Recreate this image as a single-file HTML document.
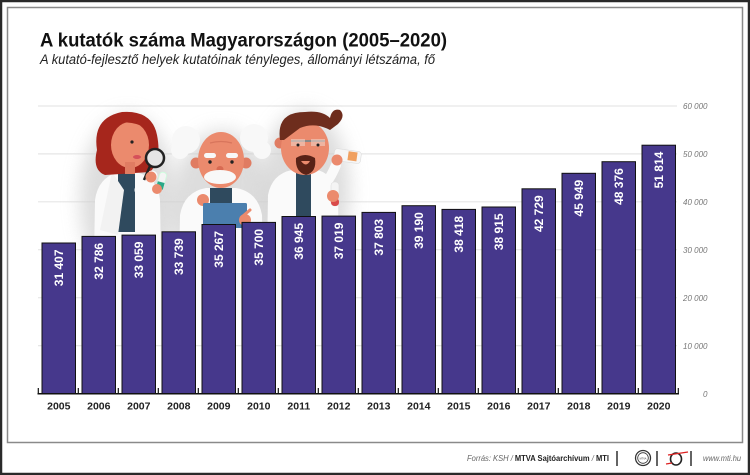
<!DOCTYPE html>
<html><head><meta charset="utf-8"><style>
html,body{margin:0;padding:0;background:#fff;}
svg{display:block;}
text{font-family:"Liberation Sans",Arial,sans-serif;}
</style></head><body>
<svg width="750" height="475" viewBox="0 0 750 475" xmlns="http://www.w3.org/2000/svg">
<defs>
<filter id="blur" x="-50%" y="-50%" width="200%" height="200%"><feGaussianBlur stdDeviation="9"/></filter>
<filter id="blur2" x="-50%" y="-50%" width="200%" height="200%"><feGaussianBlur stdDeviation="4"/></filter>
</defs>
<!-- frame -->
<rect x="0" y="0" width="750" height="475" fill="#fff"/>
<rect x="1" y="1" width="748" height="473" fill="none" stroke="#2a2a2a" stroke-width="2.5"/>
<rect x="7.5" y="7.5" width="735" height="435" fill="#fff" stroke="#8a8a8a" stroke-width="1.5"/>

<!-- title -->
<text x="40" y="46.5" font-size="19.5" font-weight="bold" fill="#111" textLength="407" lengthAdjust="spacingAndGlyphs">A kutatók száma Magyarországon (2005–2020)</text>
<text x="40" y="64" font-size="13.5" font-style="italic" fill="#222" textLength="395" lengthAdjust="spacingAndGlyphs">A kutató-fejlesztő helyek kutatóinak tényleges, állományi létszáma, fő</text>

<!-- gridlines -->
<g stroke="#e6e6e6" stroke-width="1.2">
<line x1="38" y1="106" x2="677" y2="106"/>
<line x1="38" y1="153.9" x2="677" y2="153.9"/>
<line x1="38" y1="201.8" x2="677" y2="201.8"/>
<line x1="38" y1="249.7" x2="677" y2="249.7"/>
<line x1="38" y1="297.7" x2="677" y2="297.7"/>
<line x1="38" y1="345.6" x2="677" y2="345.6"/>
</g>
<g font-size="8" font-style="italic" fill="#777">
<text x="683" y="109">60 000</text>
<text x="683" y="157">50 000</text>
<text x="683" y="205">40 000</text>
<text x="683" y="253">30 000</text>
<text x="683" y="301">20 000</text>
<text x="683" y="349">10 000</text>
<text x="703" y="397">0</text>
</g>

<!-- illustration -->
<g>
<!-- shadows -->
<ellipse cx="128" cy="200" rx="48" ry="85" fill="#cfcfcf" opacity="0.7" filter="url(#blur)"/>
<ellipse cx="222" cy="210" rx="52" ry="80" fill="#cfcfcf" opacity="0.7" filter="url(#blur)"/>
<ellipse cx="305" cy="190" rx="45" ry="80" fill="#cfcfcf" opacity="0.7" filter="url(#blur)"/>

<!-- WOMAN -->
<rect x="110" y="225" width="32" height="45" fill="#222c36"/>
<path d="M93 320 L95 200 Q98 178 118 172 L136 172 Q158 178 160 200 L162 320 Z" fill="#fafafa"/>
<rect x="118" y="172" width="17" height="60" fill="#2f4a5e"/>
<path d="M112 172 L124 190 L118 235 L100 230 Z" fill="#f2f2f2"/>
<path d="M97 150 Q92 118 122 112 Q152 110 157 135 Q162 160 150 172 L105 175 Q92 170 97 150 Z" fill="#a6261c"/>
<ellipse cx="130" cy="145" rx="19" ry="23" fill="#eb8a6d"/>
<path d="M112 125 Q130 118 150 130 L150 122 Q132 110 112 120 Z" fill="#a6261c"/>
<ellipse cx="137" cy="157" rx="4" ry="2" fill="#d5505a"/>
<circle cx="132" cy="142" r="1.6" fill="#222"/>
<rect x="125" y="162" width="10" height="12" fill="#e07c62"/>
<path d="M140 190 Q148 182 152 176" stroke="#fafafa" stroke-width="11" fill="none" stroke-linecap="round"/>
<line x1="150" y1="166" x2="144" y2="180" stroke="#222" stroke-width="2.5"/>
<circle cx="155" cy="158" r="9" fill="#e6e6e6" stroke="#222" stroke-width="2.5"/>
<circle cx="151" cy="177" r="5.5" fill="#eb8a6d"/>
<rect x="158" y="172" width="7" height="18" rx="3" fill="#f4f4f4" stroke="#cfd" stroke-width="0.8" transform="rotate(15 161 181)"/>
<rect x="158" y="182" width="7" height="7" fill="#2aa888" transform="rotate(15 161 181)"/>
<circle cx="157" cy="189" r="5" fill="#eb8a6d"/>

<!-- OLD MAN -->
<rect x="200" y="225" width="40" height="50" fill="#222c36"/>
<circle cx="186" cy="140" r="14" fill="#f8f8f8"/>
<circle cx="180" cy="150" r="9" fill="#f8f8f8"/>
<circle cx="254" cy="138" r="14" fill="#f8f8f8"/>
<circle cx="262" cy="150" r="9" fill="#f8f8f8"/>
<path d="M178 320 L180 215 Q184 192 206 188 L236 188 Q258 192 262 215 L264 320 Z" fill="#fafafa"/>
<rect x="210" y="188" width="22" height="16" fill="#2f4a5e"/>
<circle cx="196" cy="163" r="5.5" fill="#e07c62"/>
<circle cx="246" cy="163" r="5.5" fill="#e07c62"/>
<ellipse cx="221" cy="160" rx="23" ry="28" fill="#eb8a6d"/>
<path d="M210 143 Q221 140 232 143" stroke="#d8755c" stroke-width="1.2" fill="none"/>
<rect x="204" y="153" width="12" height="5" rx="2.5" fill="#f8f8f8"/>
<rect x="226" y="153" width="12" height="5" rx="2.5" fill="#f8f8f8"/>
<circle cx="210" cy="162" r="1.7" fill="#222"/>
<circle cx="232" cy="162" r="1.7" fill="#222"/>
<ellipse cx="220" cy="169" rx="3.5" ry="3" fill="#d86a52"/>
<ellipse cx="220" cy="177" rx="16" ry="7" fill="#f8f8f8"/>
<circle cx="203" cy="200" r="6" fill="#eb8a6d"/>
<rect x="203" y="203" width="44" height="25" rx="1.5" fill="#4b7fae"/>
<circle cx="245" cy="220" r="6" fill="#eb8a6d"/>
<path d="M243 216 L250 210" stroke="#eb8a6d" stroke-width="3" stroke-linecap="round"/>

<!-- THIRD MAN -->
<rect x="288" y="225" width="30" height="45" fill="#222c36"/>
<path d="M266 320 L268 195 Q272 174 292 170 L318 170 Q336 176 338 198 L340 320 Z" fill="#fafafa"/>
<rect x="296" y="172" width="15" height="55" fill="#2f4a5e"/>
<circle cx="280" cy="143" r="5.5" fill="#e07c62"/>
<ellipse cx="305" cy="148" rx="24" ry="27" fill="#eb8a6d"/>
<path d="M280 140 Q276 112 305 112 Q322 110 330 118 Q332 108 340 110 Q346 116 338 124 L330 130 Q315 122 300 128 L284 140 Z" fill="#6e2d1d"/>
<path d="M291 141 L325 141" stroke="#888" stroke-width="2"/>
<rect x="291" y="139" width="14" height="7" fill="#f0d0c4" opacity="0.6"/>
<rect x="311" y="139" width="14" height="7" fill="#f0d0c4" opacity="0.6"/>
<circle cx="298" cy="145" r="1.5" fill="#222"/>
<circle cx="318" cy="145" r="1.5" fill="#222"/>
<path d="M296 158 Q305 152 315 158 Q317 172 306 175 Q295 172 296 158 Z M301 161 Q306 168 310 161 Z" fill="#5a2216" fill-rule="evenodd"/>
<path d="M325 185 Q332 175 336 165" stroke="#fafafa" stroke-width="10" fill="none" stroke-linecap="round"/>
<rect x="334" y="150" width="27" height="12" rx="3" fill="#f6f6f6" stroke="#ddd" stroke-width="0.6" transform="rotate(8 347 156)"/>
<rect x="348" y="151" width="9" height="9" fill="#f0a060" transform="rotate(8 347 156)"/>
<circle cx="337" cy="160" r="5.5" fill="#eb8a6d"/>
<rect x="331" y="182" width="8" height="24" rx="3.5" fill="#f4f4f4" stroke="#ddd" stroke-width="0.6"/>
<rect x="331" y="198" width="8" height="8" rx="3.5" fill="#d94a4a"/>
<circle cx="333" cy="196" r="6" fill="#eb8a6d"/>
</g>

<!-- bars -->
<g fill="#46388c" stroke="#111" stroke-width="1">
<rect x="42" y="243.0" width="33.5" height="150.5"/>
<rect x="82" y="236.4" width="33.5" height="157.1"/>
<rect x="122" y="235.1" width="33.5" height="158.4"/>
<rect x="162" y="231.8" width="33.5" height="161.7"/>
<rect x="202" y="224.5" width="33.5" height="169.0"/>
<rect x="242" y="222.4" width="33.5" height="171.1"/>
<rect x="282" y="216.5" width="33.5" height="177.0"/>
<rect x="322" y="216.1" width="33.5" height="177.4"/>
<rect x="362" y="212.4" width="33.5" height="181.1"/>
<rect x="402" y="205.7" width="33.5" height="187.8"/>
<rect x="442" y="209.4" width="33.5" height="184.1"/>
<rect x="482" y="207.0" width="33.5" height="186.5"/>
<rect x="522" y="188.8" width="33.5" height="204.7"/>
<rect x="562" y="173.3" width="33.5" height="220.2"/>
<rect x="602" y="161.7" width="33.5" height="231.8"/>
<rect x="642" y="145.2" width="33.5" height="248.3"/>
</g>

<!-- value labels -->
<g font-size="12" font-weight="bold" fill="#fff" text-anchor="end">
<text transform="translate(63.2 249.5) rotate(-90)">31 407</text>
<text transform="translate(103.2 242.9) rotate(-90)">32 786</text>
<text transform="translate(143.2 241.6) rotate(-90)">33 059</text>
<text transform="translate(183.2 238.3) rotate(-90)">33 739</text>
<text transform="translate(223.2 231.0) rotate(-90)">35 267</text>
<text transform="translate(263.2 228.9) rotate(-90)">35 700</text>
<text transform="translate(303.2 223.0) rotate(-90)">36 945</text>
<text transform="translate(343.2 222.6) rotate(-90)">37 019</text>
<text transform="translate(383.2 218.9) rotate(-90)">37 803</text>
<text transform="translate(423.2 212.2) rotate(-90)">39 190</text>
<text transform="translate(463.2 215.9) rotate(-90)">38 418</text>
<text transform="translate(503.2 213.5) rotate(-90)">38 915</text>
<text transform="translate(543.2 195.3) rotate(-90)">42 729</text>
<text transform="translate(583.2 179.8) rotate(-90)">45 949</text>
<text transform="translate(623.2 168.2) rotate(-90)">48 376</text>
<text transform="translate(663.2 151.7) rotate(-90)">51 814</text>
</g>

<!-- baseline & ticks -->
<line x1="37.5" y1="393.8" x2="679" y2="393.8" stroke="#111" stroke-width="1.5"/>
<g stroke="#111" stroke-width="1.2">
<line x1="38.3" y1="388" x2="38.3" y2="394"/>
<line x1="78.3" y1="388" x2="78.3" y2="394"/>
<line x1="118.3" y1="388" x2="118.3" y2="394"/>
<line x1="158.3" y1="388" x2="158.3" y2="394"/>
<line x1="198.3" y1="388" x2="198.3" y2="394"/>
<line x1="238.3" y1="388" x2="238.3" y2="394"/>
<line x1="278.3" y1="388" x2="278.3" y2="394"/>
<line x1="318.3" y1="388" x2="318.3" y2="394"/>
<line x1="358.3" y1="388" x2="358.3" y2="394"/>
<line x1="398.3" y1="388" x2="398.3" y2="394"/>
<line x1="438.3" y1="388" x2="438.3" y2="394"/>
<line x1="478.3" y1="388" x2="478.3" y2="394"/>
<line x1="518.3" y1="388" x2="518.3" y2="394"/>
<line x1="558.3" y1="388" x2="558.3" y2="394"/>
<line x1="598.3" y1="388" x2="598.3" y2="394"/>
<line x1="638.3" y1="388" x2="638.3" y2="394"/>
<line x1="678.3" y1="388" x2="678.3" y2="394"/>
</g>

<!-- x labels -->
<g font-size="10.5" font-weight="bold" fill="#222" text-anchor="middle">
<text x="58.8" y="409.5">2005</text>
<text x="98.8" y="409.5">2006</text>
<text x="138.8" y="409.5">2007</text>
<text x="178.8" y="409.5">2008</text>
<text x="218.8" y="409.5">2009</text>
<text x="258.8" y="409.5">2010</text>
<text x="298.8" y="409.5">2011</text>
<text x="338.8" y="409.5">2012</text>
<text x="378.8" y="409.5">2013</text>
<text x="418.8" y="409.5">2014</text>
<text x="458.8" y="409.5">2015</text>
<text x="498.8" y="409.5">2016</text>
<text x="538.8" y="409.5">2017</text>
<text x="578.8" y="409.5">2018</text>
<text x="618.8" y="409.5">2019</text>
<text x="658.8" y="409.5">2020</text>
</g>

<!-- footer -->
<text x="467" y="461" font-size="8.5" fill="#666" textLength="142" lengthAdjust="spacingAndGlyphs"><tspan font-style="italic">Forrás: KSH / </tspan><tspan font-weight="bold" fill="#222">MTVA Sajtóarchívum</tspan><tspan font-style="italic"> / </tspan><tspan font-weight="bold" fill="#222">MTI</tspan></text>
<line x1="617" y1="451" x2="617" y2="466" stroke="#222" stroke-width="1.4"/>
<circle cx="643" cy="458" r="7.5" fill="#fff" stroke="#333" stroke-width="1.3"/>
<circle cx="643" cy="458" r="5.3" fill="#fff" stroke="#333" stroke-width="0.8"/>
<text x="643" y="459.5" font-size="2.5" text-anchor="middle" fill="#333">MTVA</text>
<line x1="657" y1="451" x2="657" y2="466" stroke="#222" stroke-width="1.4"/>
<ellipse cx="676" cy="459" rx="5.5" ry="6" fill="none" stroke="#222" stroke-width="1.6"/>
<path d="M668 455 L688 452" stroke="#d22" stroke-width="1.3"/>
<path d="M666 464 L672 463" stroke="#d22" stroke-width="1.3"/>
<line x1="691" y1="451" x2="691" y2="466" stroke="#222" stroke-width="1.4"/>
<text x="703" y="461" font-size="8.5" font-style="italic" fill="#666" textLength="38" lengthAdjust="spacingAndGlyphs">www.mti.hu</text>
</svg>
</body></html>
